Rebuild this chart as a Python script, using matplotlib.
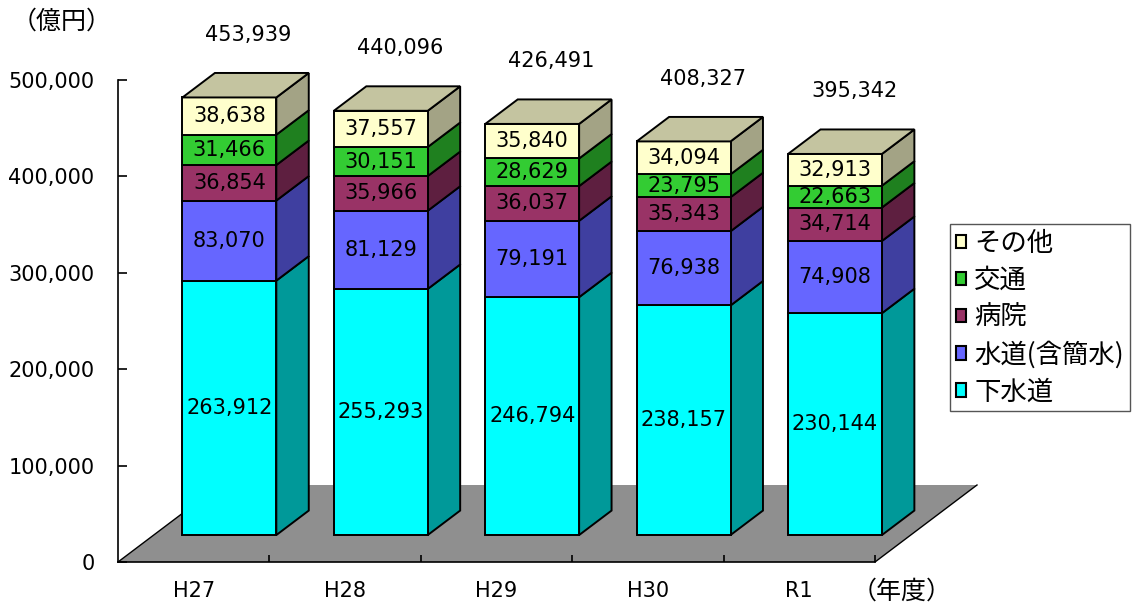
"""
3D-style stacked bar chart: 地方公営企業 企業債現在高 by business type (億円).
"""
import matplotlib
matplotlib.use("Agg")
import matplotlib.pyplot as plt
from matplotlib.patches import Polygon, Patch
from matplotlib.font_manager import FontProperties

years = ["H27", "H28", "H29", "H30", "R1"]
series_names = ["下水道", "水道(含簡水)", "病院", "交通", "その他"]
gesuido = [263912, 255293, 246794, 238157, 230144]
suido = [83070, 81129, 79191, 76938, 74908]
byoin = [36854, 35966, 36037, 35343, 34714]
kotsu = [31466, 30151, 28629, 23795, 22663]
sonota = [38638, 37557, 35840, 34094, 32913]
totals = [453939, 440096, 426491, 408327, 395342]
yticks = [0, 100000, 200000, 300000, 400000, 500000]

front_colors = ["#00FFFF", "#6666FF", "#993366", "#33CC33", "#FFFFCC"]
side_colors = ["#009999", "#3F3FA0", "#5E1F40", "#1F801F", "#A3A385"]
top_color = "#C4C4A0"
floor_color = "#8F8F8F"

plt.rcParams["font.family"] = ["DejaVu Sans", "Noto Sans CJK JP"]
JP = ["Noto Sans CJK JP", "DejaVu Sans"]

W, H = 1135, 607
fig = plt.figure(figsize=(W / 100, H / 100), dpi=100, facecolor="white")
# axes box in pixels: x 118..875, y 80..562
ax = fig.add_axes([118 / W, (H - 562) / H, 757 / W, 482 / H])
n = len(years)
ymax = 500000
ax.set_xlim(0, n)
ax.set_ylim(0, ymax)
px_y = ymax / 482  # data units per pixel, vertical

# depth of the floor expressed in data units (102 px right, 77 px up)
DX = 102 * n / 757
DY = 77 * px_y
d_front, d_back = 0.35, 0.668
bar_w = 0.62

# floor
floor = Polygon([(0, 0), (n, 0), (n + DX, DY), (DX, DY)], closed=True,
                facecolor=floor_color, edgecolor="none", zorder=1, clip_on=False)
ax.add_patch(floor)
ax.plot([0, DX], [0, DY], color="black", lw=1.0, zorder=1.5, clip_on=False)
ax.plot([n, n + DX], [0, DY], color="black", lw=1.0, zorder=1.5, clip_on=False)

stack = [gesuido, suido, byoin, kotsu, sonota]
fx, fy = d_front * DX, d_front * DY
bx, by = d_back * DX, d_back * DY
ew = 1.4

for i in range(n):
    left = i + 0.5 - bar_w / 2 + fx
    right = left + bar_w
    base = 0
    for k, vals in enumerate(stack):
        v = vals[i]
        y0, y1 = base + fy, base + v + fy
        front = Polygon([(left, y0), (right, y0), (right, y1), (left, y1)],
                        facecolor=front_colors[k], edgecolor="black", lw=ew,
                        zorder=3, clip_on=False, joinstyle="miter")
        side = Polygon([(right, y0), (right + (bx - fx), y0 + (by - fy)),
                        (right + (bx - fx), y1 + (by - fy)), (right, y1)],
                       facecolor=side_colors[k], edgecolor="black", lw=ew,
                       zorder=2.9, clip_on=False, joinstyle="miter")
        ax.add_patch(side)
        ax.add_patch(front)
        ax.text((left + right) / 2, (y0 + y1) / 2, f"{v:,}", ha="center",
                va="center", fontsize=15, color="black", zorder=5, clip_on=False)
        base += v
    top_y = base + fy
    top = Polygon([(left, top_y), (right, top_y),
                   (right + (bx - fx), top_y + (by - fy)),
                   (left + (bx - fx), top_y + (by - fy))],
                  facecolor=top_color, edgecolor="black", lw=ew,
                  zorder=3.1, clip_on=False, joinstyle="miter")
    ax.add_patch(top)
    # total above the bar
    ax.text((left + right) / 2 + (bx - fx) / 2 + 0.02, totals[i] + by + 38 * px_y,
            f"{totals[i]:,}", ha="center", va="center", fontsize=15,
            color="black", clip_on=False, zorder=5)

# axes styling
for s in ["top", "right"]:
    ax.spines[s].set_visible(False)
ax.spines["left"].set_linewidth(1.2)
ax.spines["bottom"].set_linewidth(1.2)
ax.spines["left"].set_zorder(4)
ax.spines["bottom"].set_zorder(4)
ax.set_facecolor("none")

ax.set_yticks(yticks)
ax.set_yticklabels([f"{t:,}" for t in yticks], fontsize=15)
ax.tick_params(axis="y", direction="in", length=6.5, width=1.2, pad=17)

ax.set_xticks(range(1, n + 1))
ax.set_xticklabels([])
ax.tick_params(axis="x", which="major", direction="in", length=5, width=1.2)
ax.set_xticks([i + 0.5 for i in range(n)], minor=True)
ax.set_xticklabels(years, minor=True, fontsize=15)
ax.tick_params(axis="x", which="minor", length=0, pad=14)

fig.text(12 / W, 1 - 22 / H, "（億円）", ha="left", va="center",
         fontsize=18, family=JP)
fig.text(902 / W, 1 - 592 / H, "（年度）", ha="center", va="center",
         fontsize=18, family=JP)

handles = [Patch(facecolor=front_colors[k], edgecolor="black", lw=1.5)
           for k in range(len(series_names))][::-1]
labels = series_names[::-1]
leg = fig.legend(handles, labels, loc="upper left",
                 bbox_to_anchor=(950 / W, 1 - 224 / H),
                 prop=FontProperties(family=JP, size=19),
                 frameon=True, fancybox=False, framealpha=1,
                 edgecolor="#555555", handlelength=0.4, handleheight=0.4,
                 handletextpad=0.3, labelspacing=0.38, borderpad=0.22,
                 borderaxespad=0)
leg.get_frame().set_linewidth(1.0)

fig.savefig("out.png", dpi=100, facecolor="white")
